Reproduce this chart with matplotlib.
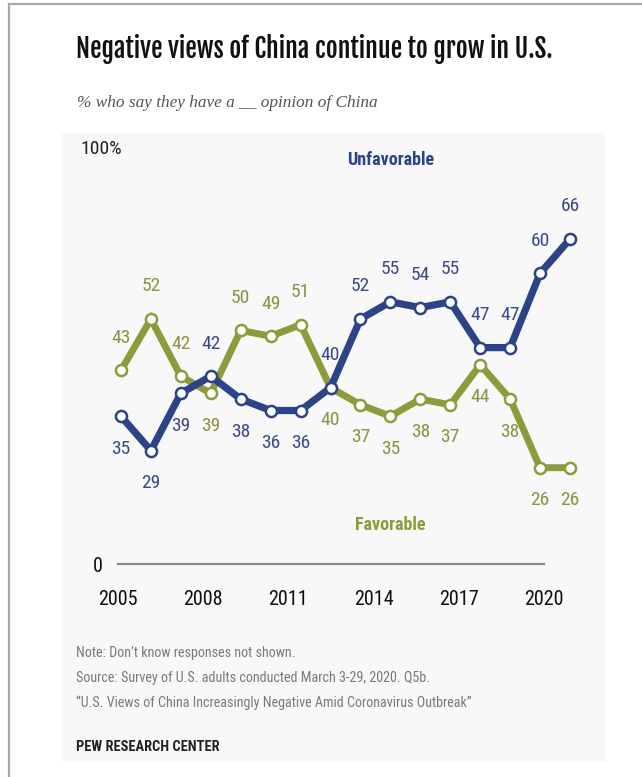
import matplotlib
matplotlib.use("Agg")
import matplotlib.pyplot as plt
from matplotlib.patches import Rectangle
from matplotlib.lines import Line2D
from matplotlib import font_manager
from matplotlib.font_manager import FontProperties
import os

years = list(range(2005, 2021))
unfavorable = [35, 29, 39, 42, 38, 36, 36, 40, 52, 55, 54, 55, 47, 47, 60, 66]
favorable = [43, 52, 42, 39, 50, 49, 51, 40, 37, 35, 38, 37, 44, 38, 26, 26]
tick_years = [2005, 2008, 2011, 2014, 2017, 2020]

title = "Negative views of China continue to grow in U.S."
subtitle = "% who say they have a __ opinion of China"
notes = ["Note: Don\u2019t know responses not shown.",
         "Source: Survey of U.S. adults conducted March 3-29, 2020. Q5b.",
         "\u201cU.S. Views of China Increasingly Negative Amid Coronavirus Outbreak\u201d"]

BLUE = '#2c4386'
BLUE_TXT = '#3b4888'
GREEN = '#8c9b3c'
GREEN_TXT = '#8e913f'

font_files = {os.path.basename(f.fname): f.fname for f in font_manager.fontManager.ttflist}


def pick(candidates, fallback):
    for c in candidates:
        if c in font_files:
            return font_files[c]
    return font_manager.findfont(fallback)


HEAD = pick(['FjallaOne-Regular.ttf', 'RobotoCondensed-Bold.ttf', 'BarlowCondensed-SemiBold.ttf',
             'DejaVuSansCondensed-Bold.ttf'], FontProperties(family='DejaVu Sans', weight='bold'))
BOLD = pick(['RobotoCondensed-Bold.ttf', 'LiberationSansNarrow-Bold.ttf', 'BarlowCondensed-SemiBold.ttf',
             'AsapCondensed-Bold.ttf', 'DejaVuSansCondensed-Bold.ttf'],
            FontProperties(family='DejaVu Sans', weight='bold'))
REG = pick(['RobotoCondensed-Regular.ttf', 'LiberationSansNarrow-Regular.ttf', 'BarlowCondensed-Regular.ttf',
            'AsapCondensed-Regular.ttf', 'DejaVuSansCondensed.ttf'],
           FontProperties(family='DejaVu Sans'))
ITAL = pick(['PTSerif-Italic.ttf', 'LiberationSerif-Italic.ttf', 'DejaVuSerif-Italic.ttf'],
            FontProperties(family='DejaVu Serif', style='italic'))


def fp(path, size):
    return FontProperties(fname=path, size=size)


W, H = 642, 777
fig = plt.figure(figsize=(W / 100, H / 100), dpi=100)
fig.patch.set_facecolor('white')
renderer = fig.canvas.get_renderer()


def fx(px):
    return px / W


def fy(py):
    return 1 - py / H


def fit(txt, width_px):
    # shrink or grow a text so it spans the given pixel width
    w = txt.get_window_extent(renderer).width
    txt.set_fontsize(txt.get_fontsize() * width_px / w)


# light panel and the outer frame lines
fig.patches.append(Rectangle((fx(62), fy(762)), fx(606) - fx(62), fy(133) - fy(762),
                             transform=fig.transFigure, facecolor='#f8f8f8', edgecolor='none', zorder=-10))
fig.lines.append(Line2D([fx(9), fx(9)], [0, fy(4)], transform=fig.transFigure, color='#a8a8a8', lw=1.6))
fig.lines.append(Line2D([fx(9), 1], [fy(4), fy(4)], transform=fig.transFigure, color='#a8a8a8', lw=1.6))

t = fig.text(fx(76), fy(58), title, fontproperties=fp(HEAD, 20), color='#111111', va='baseline')
fit(t, 477)
t = fig.text(fx(77), fy(107), subtitle, fontproperties=fp(ITAL, 12.5), color='#555555', va='baseline')
fit(t, 303)
fig.text(fx(80), fy(154), "100%", fontproperties=fp(REG, 14), color='#222222', va='baseline')

# data axes
ax = fig.add_axes([fx(100), fy(502), fx(591) - fx(100), fy(187.5) - fy(502)])
ax.set_xlim(2004.3, 2020.7)
ax.set_ylim(20, 75)
ax.axis('off')

ax.plot(years, favorable, color=GREEN, lw=5, marker='o', ms=8, mfc='white', mec=GREEN, mew=1.8,
        zorder=2, solid_joinstyle='miter')
ax.plot(years, unfavorable, color=BLUE, lw=5.2, marker='o', ms=8, mfc='white', mec=BLUE, mew=1.8,
        zorder=3, solid_joinstyle='miter')

for yr, u, f in zip(years, unfavorable, favorable):
    up = 1 if u >= f else -1
    ax.annotate(str(u), (yr, u), xytext=(0, 23.5 * up), textcoords='offset points',
                ha='center', va='center', fontproperties=fp(REG, 14), color=BLUE_TXT, annotation_clip=False)
    ax.annotate(str(f), (yr, f), xytext=(0, -23.5 * up), textcoords='offset points',
                ha='center', va='center', fontproperties=fp(REG, 14), color=GREEN_TXT, annotation_clip=False)

ax.text(2014, 79.8, "Unfavorable", ha='center', va='center', fontproperties=fp(BOLD, 13),
        color=BLUE, clip_on=False)
ax.text(2014, 16, "Favorable", ha='center', va='center', fontproperties=fp(BOLD, 13),
        color=GREEN, clip_on=False)

# baseline with year labels
base = fig.add_axes([fx(118), fy(564), fx(544) - fx(118), 0.002])
base.set_xlim(2005, 2020)
base.set_ylim(0, 1)
for s in ['top', 'right', 'left']:
    base.spines[s].set_visible(False)
base.spines['bottom'].set_color('#8a8a8a')
base.spines['bottom'].set_linewidth(1.6)
base.set_facecolor('none')
base.set_xticks(tick_years)
base.set_xticklabels([str(t) for t in tick_years], fontproperties=fp(REG, 14.5), color='#111111')
base.set_yticks([0])
base.set_yticklabels(["0"], fontproperties=fp(REG, 14.5), color='#111111')
base.tick_params(axis='x', length=0, pad=19)
base.tick_params(axis='y', length=0, pad=11)

y0 = 657
for line in notes:
    fig.text(fx(76), fy(y0), line, fontproperties=fp(REG, 10.2), color='#7a7a7a', va='baseline')
    y0 += 25
t = fig.text(fx(76), fy(751), "PEW RESEARCH CENTER", fontproperties=fp(BOLD, 11),
             color='#222222', va='baseline')
fit(t, 142)

fig.savefig('out.png', dpi=100)
